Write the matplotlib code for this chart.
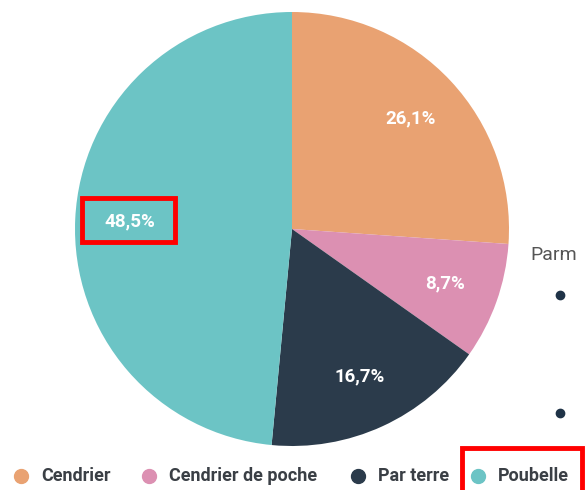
import matplotlib.pyplot as plt
from matplotlib.lines import Line2D
from matplotlib.patches import Rectangle

# parts of the pie, clockwise from the top
labels = ['Cendrier', 'Cendrier de poche', 'Par terre', 'Poubelle']
values = [26.1, 8.7, 16.7, 48.5]
colors = ['#E9A272', '#DC90B2', '#2B3B4B', '#6CC4C5']

plt.rcParams['font.family'] = ['Roboto', 'DejaVu Sans']

fig = plt.figure(figsize=(5.85, 4.9), dpi=100)
W, H = 585, 490
cx, cy, r = 292, 229, 217
ax = fig.add_axes([(cx - r) / W, (H - cy - r) / H, 2 * r / W, 2 * r / H])

wedges, texts, autotexts = ax.pie(
    values, colors=colors, startangle=90, counterclock=False,
    autopct=lambda p: f'{p:.1f}'.replace('.', ',') + '%',
    pctdistance=0.75, radius=1.0,
    wedgeprops=dict(linewidth=0),
    textprops=dict(color='white', fontsize=13.5, fontweight='bold'))
ax.set_xlim(-1, 1)
ax.set_ylim(-1, 1)
ax.axis('off')

# legend along the bottom, placed entry by entry
leg_x = [21, 149, 358, 478]
leg_y = 476
for lx, lab, col in zip(leg_x, labels, colors):
    fig.add_artist(Line2D([lx / W], [1 - leg_y / H], transform=fig.transFigure,
                          marker='o', markersize=10, linestyle='',
                          markerfacecolor=col, markeredgecolor=col))
    fig.text((lx + 20) / W, 1 - leg_y / H, lab, fontsize=13, fontweight='bold',
             color='#3a3f45', va='center', ha='left')

# bits of the slide beside the chart
fig.text(530 / W, 1 - 255 / H, 'Parm', fontsize=14, color='#555555',
         va='center', ha='left')
for by in (295, 413):
    fig.add_artist(Line2D([560 / W], [1 - by / H], transform=fig.transFigure,
                          marker='o', markersize=6, linestyle='',
                          markerfacecolor='#1f3347', markeredgecolor='#1f3347'))

# red highlight boxes
for (x0, y0, x1, y1) in [(82, 198, 175, 242), (462, 448, 582, 500)]:
    fig.patches.append(Rectangle((x0 / W, 1 - y1 / H), (x1 - x0) / W, (y1 - y0) / H,
                                 transform=fig.transFigure, fill=False,
                                 edgecolor='#ff0000', linewidth=3.5))

fig.savefig('out.png', dpi=100)
